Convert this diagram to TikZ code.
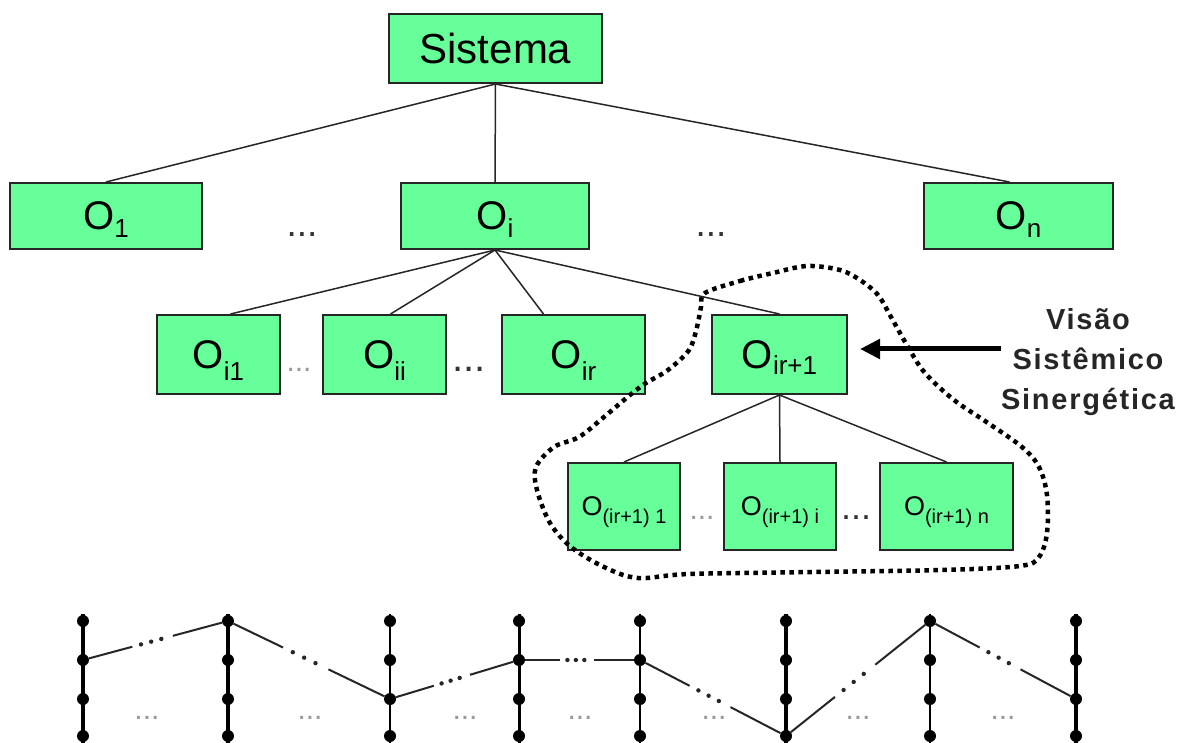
\documentclass[tikz,border=0pt]{standalone}
\usepackage{fontspec}
\setmainfont{Liberation Sans}
\usetikzlibrary{calc,arrows.meta}
\definecolor{boxgreen}{RGB}{102,255,153}
% O with a lowered subscript that does not change the box height
\newcommand\osubtext[4]{\fontsize{#1}{#1}\selectfont O\raisebox{-#3}[0pt][0pt]{\fontsize{#2}{#2}\selectfont #4}}
\newcommand\dotsize[1]{\fontsize{#1}{#1}\selectfont}
\begin{document}
\begin{tikzpicture}[x=1pt,y=-1pt,
  box/.style={draw=black!85, line width=2pt, fill=boxgreen, inner sep=0pt},
  link/.style={draw=black!85, line width=1.5pt},
  darkdots/.style={text=black!80, anchor=base, inner sep=0pt},
  greydots/.style={text=black!40, anchor=base, inner sep=0pt},
  blob/.style={draw=black, line width=4.5pt, dash pattern=on 4.5pt off 4.5pt},
  bead/.style={circle, fill=black, inner sep=0pt, minimum size=12pt},
  conn/.style={draw=black!85, line width=2pt}]

\fill[white] (0,0) rectangle (1181,743);
\useasboundingbox (0,0) rectangle (1181,743);

% top level
\node[box, minimum width=213pt, minimum height=69pt] (sis) at (495.5,48.5) {\fontsize{42}{42}\selectfont Sistema};

% first level
\node[box, minimum width=192pt, minimum height=66pt] (o1) at (106,216) {\osubtext{40}{26}{8pt}{1}};
\node[box, minimum width=188pt, minimum height=66pt] (oi) at (495,216) {\osubtext{40}{26}{8pt}{i}};
\node[box, minimum width=189pt, minimum height=66pt] (on) at (1018.5,216) {\osubtext{40}{26}{8pt}{n}};
\node[darkdots] (d01) at (302,237) {\dotsize{37}...};
\node[darkdots] (d02) at (711,237) {\dotsize{37}...};

\draw[link] (sis.south) -- (o1.north);
\draw[link] (sis.south) -- (oi.north);
\draw[link] (sis.south) -- ([xshift=-9pt]on.north);

% second level
\node[box, minimum width=123pt, minimum height=79pt] (oi1) at (218.5,354.5) {\osubtext{40}{26}{12pt}{i1}};
\node[box, minimum width=123pt, minimum height=79pt] (oii) at (384.5,354.5) {\osubtext{40}{26}{12pt}{ii}};
\node[box, minimum width=143pt, minimum height=79pt] (oir) at (573.5,354.5) {\osubtext{40}{26}{12pt}{ir}};
\node[box, minimum width=135pt, minimum height=79pt] (oirp) at (779.5,354.5) {\osubtext{40}{26}{6pt}{ir+1}};
\node[greydots] (d11) at (299,371) {\dotsize{30}...};
\node[darkdots] (d12) at (469,371) {\dotsize{40}...};

\draw[link] (oi.south) -- ([xshift=12pt]oi1.north);
\draw[link] (oi.south) -- ([xshift=6pt]oii.north);
\draw[link] (oi.south) -- ([xshift=-30pt]oir.north);
\draw[link] (oi.south) -- (oirp.north);

% third level
\node[box, minimum width=112pt, minimum height=87pt] (p1) at (624,506.5) {\osubtext{27}{20}{8pt}{(ir+1) 1}};
\node[box, minimum width=112pt, minimum height=87pt] (pi) at (780,506.5) {\osubtext{27}{20}{8pt}{(ir+1) i}};
\node[box, minimum width=133pt, minimum height=87pt] (pn) at (946.5,506.5) {\osubtext{27}{20}{8pt}{(ir+1) n}};
\node[greydots] (d21) at (702,519) {\dotsize{30}...};
\node[darkdots] (d22) at (856,519) {\dotsize{36}...};

\draw[link] (oirp.south) -- (p1.north);
\draw[link] (oirp.south) -- (pi.north);
\draw[link] (oirp.south) -- (pn.north);

% dotted outline around the selected subtree
\draw[blob] plot[smooth cycle, tension=0.55] coordinates {
  (705,293) (740,281) (773,273) (807,266) (840,270) (860,280) (878,295)
  (891,317) (908,347) (925,373) (954,400) (988,423) (1022,447) (1039,467)
  (1047,495) (1047,533) (1039,557) (1020,566) (942,570) (815,572) (689,574)
  (638,578) (604,567) (571,547) (550,523) (537,490) (536,467) (554,447)
  (579,437) (604,417) (630,395) (646,383) (668,370) (689,350) (697,327)
  (701,307)};

% label and arrow
\node[inner sep=0pt, align=center, font=\bfseries\addfontfeature{LetterSpace=6}\fontsize{29}{40}\selectfont, text=black!85] (vis) at (1088,362)
  {Visão\\Sistêmico\\Sinergética};
\coordinate (arrstart) at ([yshift=13pt]vis.west);
\draw[line width=5pt, -{Triangle[length=20pt,width=19pt]}, shorten >=12pt] (arrstart) -- (arrstart -| oirp.east);

% bottom: columns of beads joined across levels
\foreach \x/\w [count=\c] in {83/4,228/4,390/2.5,519/3,640/2.5,786/4,930/2.5,1076/4} {
  \coordinate (t\c) at (\x,614);
  \coordinate (b\c) at (\x,745);
  \draw[line width=\w pt] (t\c) -- (b\c);
  \foreach \y [count=\k] in {621,660,699,736}
    \node[bead] (c\c-\k) at (\x,\y) {};
}
\foreach \a/\b in {c1-2/c2-1, c2-1/c3-3, c3-3/c4-2, c4-2/c5-2, c5-2/c6-4, c6-4/c7-1, c7-1/c8-3} {
  \draw[conn] (\a) -- ($(\a)!0.34!(\b)$);
  \draw[conn] ($(\a)!0.62!(\b)$) -- (\b);
  \foreach \f in {0.40,0.47,0.54}
    \fill[black!85] ($(\a)!\f!(\b)$) circle (2.2);
}
\foreach \x [count=\n] in {147,310,465,580,714,858,1003}
  \node[greydots] (g\n) at (\x,719) {\dotsize{30}...};

\end{tikzpicture}
\end{document}
